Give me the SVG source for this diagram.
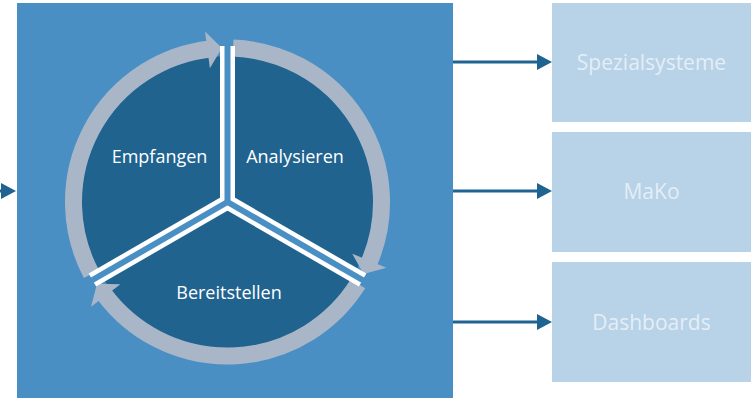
<svg xmlns="http://www.w3.org/2000/svg" width="751" height="398" viewBox="0 0 751 398">
  <defs>
    <style>
      .bg { fill: #4a8fc4; }
      .disk { fill: #20638f; }
      .ring { fill: none; stroke: #a9b6c7; stroke-width: 17; stroke-linecap: butt; }
      .head { fill: #a9b6c7; }
      .divw { stroke: #ffffff; stroke-width: 15; stroke-linecap: butt; }
      .divb { stroke: #4a8fc4; stroke-width: 6; stroke-linecap: butt; }
      .lbl { font-family: "Open Sans", "Noto Sans", "Liberation Sans", sans-serif; font-size: 18px; fill: #ffffff; text-anchor: middle; }
      .box { fill: #b8d2e7; }
      .boxtxt { font-family: "Open Sans", "Noto Sans", "Liberation Sans", sans-serif; font-size: 21px; fill: #e4eef7; text-anchor: middle; }
      .conn { stroke: #1f6391; stroke-width: 3; fill: none; }
    </style>
    <marker id="ah" markerUnits="userSpaceOnUse" markerWidth="15" markerHeight="16" refX="0" refY="8" orient="auto" viewBox="0 0 15 16">
      <path d="M0,0 L15,8 L0,16 Z" fill="#1f6391"/>
    </marker>
  </defs>

  <g id="cycle">
    <rect class="bg" x="17" y="3" width="436" height="395"/>
    <circle class="disk" cx="227.5" cy="202" r="146"/>
    <g id="ring">
      <path class="ring" d="M91.40,274.06 A154,154 0 0 1 210.07,48.99"/>
      <polygon class="head" points="209.88,68.16 205.05,31.47 221.86,48.10"/>
      <path class="ring" d="M233.14,48.10 A154,154 0 0 1 368.73,263.41"/>
      <polygon class="head" points="352.22,253.66 386.41,267.82 363.60,274.06"/>
      <path class="ring" d="M357.97,283.84 A154,154 0 0 1 103.71,293.60"/>
      <polygon class="head" points="120.40,284.18 91.04,306.71 97.03,283.84"/>
    </g>
    <g id="dividers">
      <line class="divw" x1="227.5" y1="202" x2="227.5" y2="46"/>
      <line class="divw" x1="227.5" y1="202" x2="362.60" y2="280"/>
      <line class="divw" x1="227.5" y1="202" x2="92.40" y2="280"/>
      <line class="divb" x1="227.5" y1="202" x2="227.5" y2="44"/>
      <line class="divb" x1="227.5" y1="202" x2="364.3" y2="281"/>
      <line class="divb" x1="227.5" y1="202" x2="90.7" y2="281"/>
    </g>
    <g id="empfangen"><text class="lbl" x="159.5" y="163">Empfangen</text></g>
    <g id="analysieren"><text class="lbl" x="295" y="163">Analysieren</text></g>
    <g id="bereitstellen"><text class="lbl" x="229" y="299">Bereitstellen</text></g>
  </g>

  <g id="spezialsysteme">
    <rect class="box" x="552" y="3" width="199" height="119"/>
    <text class="boxtxt" x="651.5" y="69.5">Spezialsysteme</text>
  </g>
  <g id="mako">
    <rect class="box" x="552" y="132" width="199" height="120"/>
    <text class="boxtxt" x="651.5" y="198.5">MaKo</text>
  </g>
  <g id="dashboards">
    <rect class="box" x="552" y="262" width="199" height="120"/>
    <text class="boxtxt" x="651.5" y="329.5">Dashboards</text>
  </g>

  <g id="connectors">
    <line class="conn" x1="-10" y1="191" x2="1" y2="191" marker-end="url(#ah)"/>
    <line class="conn" x1="453" y1="62" x2="537" y2="62" marker-end="url(#ah)"/>
    <line class="conn" x1="453" y1="191" x2="537" y2="191" marker-end="url(#ah)"/>
    <line class="conn" x1="453" y1="322" x2="537" y2="322" marker-end="url(#ah)"/>
  </g>
</svg>
